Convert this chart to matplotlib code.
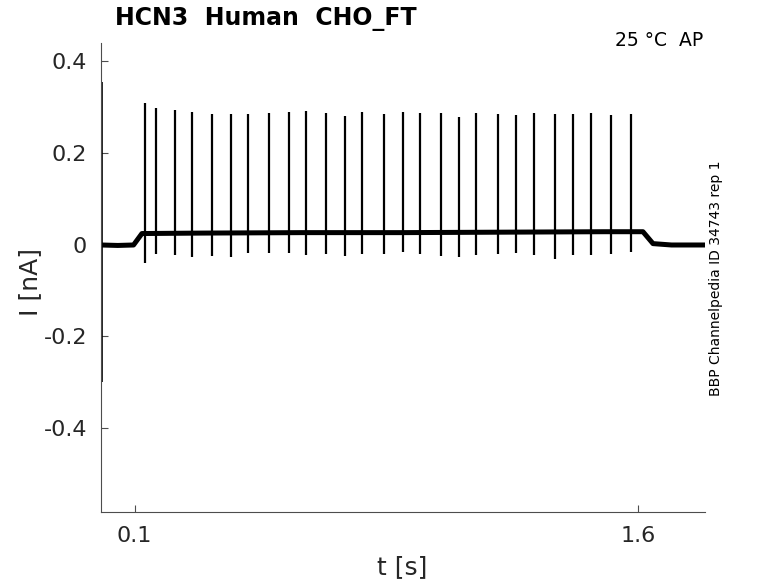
import matplotlib
matplotlib.use("Agg")
from matplotlib import pyplot as plt

# baseline current level (nA) at key times (s)
base_t = [0.0, 0.05, 0.097, 0.122, 0.3, 0.6, 0.9, 1.2, 1.5, 1.615, 1.645, 1.7, 1.8]
base_i = [-0.001, -0.002, -0.001, 0.024, 0.025, 0.026, 0.026, 0.027, 0.028, 0.028, 0.002, -0.001, -0.001]

# action potential spikes: time, peak, following dip
spike_t = [0.130, 0.164, 0.220, 0.272, 0.331, 0.387, 0.439, 0.501, 0.559,
           0.611, 0.671, 0.727, 0.778, 0.842, 0.900, 0.951, 1.012, 1.068,
           1.119, 1.182, 1.238, 1.291, 1.352, 1.407, 1.459, 1.521, 1.579]
spike_peak = [0.309, 0.299, 0.294, 0.289, 0.286, 0.285, 0.286, 0.287, 0.289,
              0.291, 0.287, 0.280, 0.289, 0.284, 0.289, 0.288, 0.288, 0.278,
              0.288, 0.284, 0.282, 0.288, 0.286, 0.284, 0.288, 0.282, 0.285]
spike_dip = [-0.040, -0.020, -0.022, -0.027, -0.026, -0.027, -0.018, -0.018, -0.018,
             -0.022, -0.020, -0.025, -0.020, -0.020, -0.016, -0.020, -0.026, -0.027,
             -0.022, -0.020, -0.018, -0.023, -0.031, -0.022, -0.022, -0.020, -0.016]

# capacitive transient at the very start
trans_t = 0.002
trans_lo = -0.30
trans_hi = 0.355

yticks = [-0.4, -0.2, 0, 0.2, 0.4]
yticklabels = ["-0.4", "-0.2", "0", "0.2", "0.4"]
xticks = [0.1, 1.6]
xticklabels = ["0.1", "1.6"]

fig = plt.figure(figsize=(7.78, 5.83), dpi=100)
ax = fig.add_axes([0.1298, 0.1218, 0.7764, 0.8044])

ax.plot(base_t, base_i, color="black", linewidth=3.6)
ax.vlines(spike_t, spike_dip, spike_peak, color="black", linewidth=1.6)
ax.vlines([trans_t], [trans_lo], [trans_hi], color="black", linewidth=1.2)

ax.set_xlim(0, 1.8)
ax.set_ylim(-0.584, 0.44)
ax.set_xticks(xticks)
ax.set_xticklabels(xticklabels)
ax.set_yticks(yticks)
ax.set_yticklabels(yticklabels)

for s in ["top", "right"]:
    ax.spines[s].set_visible(False)
for s in ["left", "bottom"]:
    ax.spines[s].set_color("#4d4d4d")
    ax.spines[s].set_linewidth(0.8)
ax.tick_params(direction="in", length=5, width=0.8, color="#4d4d4d",
               labelsize=16, labelcolor="#262626", pad=10)

fig.text(0.0386, 0.516, "I [nA]", fontsize=18, color="#262626",
         rotation=90, ha="center", va="center")
fig.text(0.517, 0.027, "t [s]", fontsize=18, color="#262626",
         ha="center", va="center")
fig.text(115 / 778, 0.968, "HCN3  Human  CHO_FT", fontsize=17,
         fontweight="bold", ha="left", va="center")
fig.text(0.9036, 0.931, "25 °C  AP", fontsize=13.5, ha="right", va="center")
fig.text(0.920, 0.523, "BBP Channelpedia ID 34743 rep 1", fontsize=10,
         rotation=90, ha="center", va="center")

fig.savefig("out.png", dpi=100)
